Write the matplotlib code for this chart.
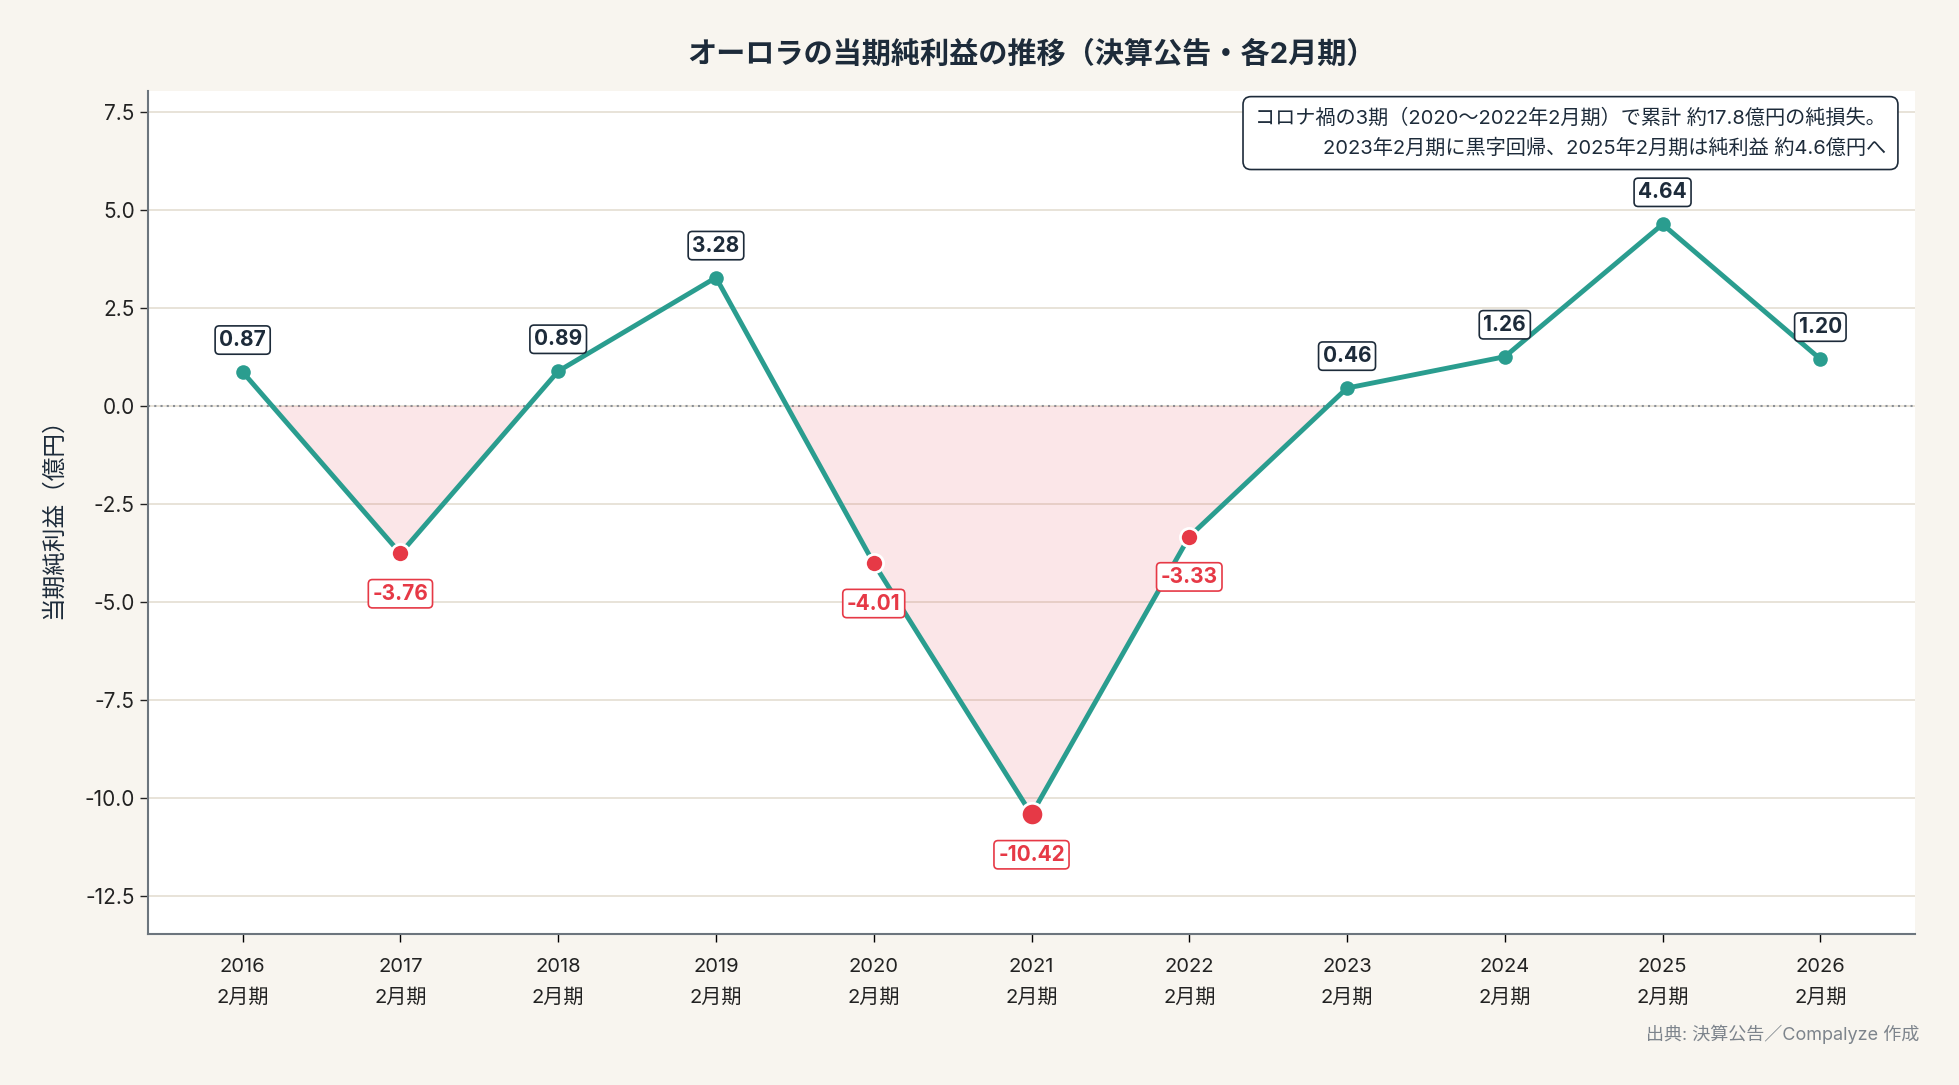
import matplotlib
matplotlib.use("Agg")
import matplotlib.pyplot as plt
import numpy as np

plt.rcParams['font.family'] = ['Inter', 'Noto Sans CJK JP', 'DejaVu Sans']
plt.rcParams['axes.unicode_minus'] = False

years = ["2016", "2017", "2018", "2019", "2020", "2021", "2022", "2023", "2024", "2025", "2026"]
profit = [0.87, -3.76, 0.89, 3.28, -4.01, -10.42, -3.33, 0.46, 1.26, 4.64, 1.20]
tick_labels = [y + "\n2月期" for y in years]

teal = "#2a9d8f"
red = "#e63946"
navy = "#1d2b3a"
bg = "#f8f5ef"

x = np.arange(len(years))
y = np.array(profit)

fig = plt.figure(figsize=(19.59, 10.85), dpi=100, facecolor=bg)
ax = fig.add_axes([148/1959, 1-934/1085, (1915-148)/1959, (934-91)/1085])
ax.set_facecolor("white")

ax.set_xlim(-0.6, 10.6)
ax.set_ylim(-13.47, 8.04)
ax.set_yticks([7.5, 5.0, 2.5, 0.0, -2.5, -5.0, -7.5, -10.0, -12.5])
ax.grid(axis="y", color="#e6e1d6", linewidth=1.3)
ax.set_axisbelow(True)
ax.axhline(0, color="#8a8f96", linestyle=(0, (1, 2)), linewidth=1.5, zorder=1)

# loss area shading
xf = np.linspace(0, 10, 2001)
yf = np.interp(xf, x, y)
ax.fill_between(xf, 0, yf, where=yf < 0, color=red, alpha=0.12, linewidth=0, zorder=2)

ax.plot(x, y, color=teal, linewidth=3.5, zorder=3)

for xi, yi in zip(x, y):
    if yi >= 0:
        ax.scatter(xi, yi, s=110, color=teal, zorder=4, linewidths=0)
        ax.annotate(f"{yi:.2f}", (xi, yi), xytext=(0, 23), textcoords="offset points",
                    ha="center", va="center", fontsize=15, fontweight="bold", color=navy,
                    bbox=dict(boxstyle="round,pad=0.2,rounding_size=0.2", fc="white", ec=navy, lw=1.2),
                    zorder=6)
    else:
        size = 260 if yi == y.min() else 170
        ax.scatter(xi, yi, s=size, color=red, edgecolors="white", linewidths=2, zorder=5)
        ax.annotate(f"{yi:.2f}", (xi, yi), xytext=(0, -29), textcoords="offset points",
                    ha="center", va="center", fontsize=15, fontweight="bold", color=red,
                    bbox=dict(boxstyle="round,pad=0.2,rounding_size=0.2", fc="white", ec=red, lw=1.2),
                    zorder=6)

ax.set_xticks(x)
ax.set_xticklabels(tick_labels, fontsize=14.5, color="#222222", linespacing=1.85)
ax.tick_params(axis="y", labelsize=15, colors="#222222", length=6, width=1)
ax.tick_params(axis="x", length=6, width=1, pad=11)
for lab in ax.get_yticklabels():
    lab.set_color("#222222")

for s in ["top", "right"]:
    ax.spines[s].set_visible(False)
for s in ["left", "bottom"]:
    ax.spines[s].set_color("#6c757d")
    ax.spines[s].set_linewidth(1.5)

ax.set_ylabel("当期純利益（億円）", fontsize=17, color=navy, labelpad=14)

ax.set_title("オーロラの当期純利益の推移（決算公告・各2月期）", fontsize=21, fontweight="bold",
             color=navy, pad=20)

ax.text(0.9835, 0.979, "コロナ禍の3期（2020〜2022年2月期）で累計 約17.8億円の純損失。\n"
        "2023年2月期に黒字回帰、2025年2月期は純利益 約4.6億円へ",
        transform=ax.transAxes, ha="right", va="top", fontsize=14.5, color=navy, linespacing=1.65,
        bbox=dict(boxstyle="round,pad=0.6,rounding_size=0.4", fc="white", ec=navy, lw=1.2), zorder=7)

fig.text(1-40/1959, 1-1034/1085, "出典: 決算公告／Compalyze 作成", ha="right", va="center",
         fontsize=13, color="#7d848c")

fig.savefig("out.png", dpi=100, facecolor=bg)
